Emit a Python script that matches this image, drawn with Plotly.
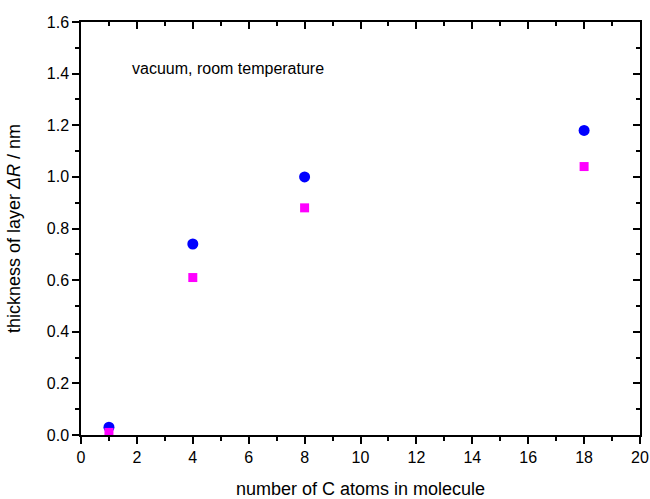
import plotly.graph_objects as go

x_atoms = [1, 4, 8, 18]
blue_vals = [0.03, 0.74, 1.00, 1.18]
magenta_vals = [0.01, 0.61, 0.88, 1.04]
x_ticks = [0, 2, 4, 6, 8, 10, 12, 14, 16, 18, 20]
y_ticks = [0.0, 0.2, 0.4, 0.6, 0.8, 1.0, 1.2, 1.4, 1.6]

font = "Liberation Sans, Arial, sans-serif"
fig = go.Figure()
fig.add_trace(go.Scatter(x=x_atoms, y=blue_vals, mode="markers",
                         marker=dict(symbol="circle", size=11, color="#0000FF", line=dict(width=0)),
                         showlegend=False))
fig.add_trace(go.Scatter(x=x_atoms, y=magenta_vals, mode="markers",
                         marker=dict(symbol="square", size=9, color="#FF00FF", line=dict(width=0)),
                         showlegend=False))
# invisible trace for mirrored top/right axes
fig.add_trace(go.Scatter(x=[x_ticks[0]], y=[y_ticks[0]], xaxis="x2", yaxis="y2", mode="markers",
                         marker=dict(opacity=0), showlegend=False, hoverinfo="skip"))

common = dict(showgrid=False, zeroline=False, showline=True, linecolor="black", linewidth=1.5,
              tickcolor="black", tickwidth=1.5, ticklen=7, automargin=False,
              tickfont=dict(size=16, family=font, color="black"))
fig.update_layout(
    width=650, height=499,
    margin=dict(l=81, r=10, t=22, b=64),
    paper_bgcolor="white", plot_bgcolor="white",
    font=dict(family=font, size=16, color="black"),
    xaxis=dict(range=[0, 20], tickvals=x_ticks, ticks="outside", ticklabeloverflow="allow",
               minor=dict(ticks="outside", dtick=1, ticklen=4, tickcolor="black", tickwidth=1.5),
               title=dict(text="number of C atoms in molecule", font=dict(size=18, family=font), standoff=17),
               **common),
    yaxis=dict(range=[0, 1.6], tickvals=y_ticks, tickformat=".1f", ticks="outside",
               minor=dict(ticks="outside", dtick=0.1, ticklen=4, tickcolor="black", tickwidth=1.5),
               title=dict(text="thickness of layer <i>ΔR</i> / nm", font=dict(size=18, family=font), standoff=21),
               **common),
    xaxis2=dict(range=[0, 20], tickvals=x_ticks, ticks="inside", overlaying="x", side="top",
                showticklabels=False, anchor="y2",
                minor=dict(ticks="inside", dtick=1, ticklen=4, tickcolor="black", tickwidth=1.5),
                **common),
    yaxis2=dict(range=[0, 1.6], tickvals=y_ticks, ticks="inside", overlaying="y", side="right",
                showticklabels=False, anchor="x2",
                minor=dict(ticks="inside", dtick=0.1, ticklen=4, tickcolor="black", tickwidth=1.5),
                **common),
    annotations=[dict(x=1.75, y=1.42, xref="x", yref="y", text="vacuum, room temperature",
                      showarrow=False, xanchor="left", yanchor="middle",
                      font=dict(size=16, family=font, color="black"))],
)
fig.write_html("out.html", config={"displayModeBar": False},
               post_script="document.body.style.margin='0';document.body.style.overflow='hidden';")
